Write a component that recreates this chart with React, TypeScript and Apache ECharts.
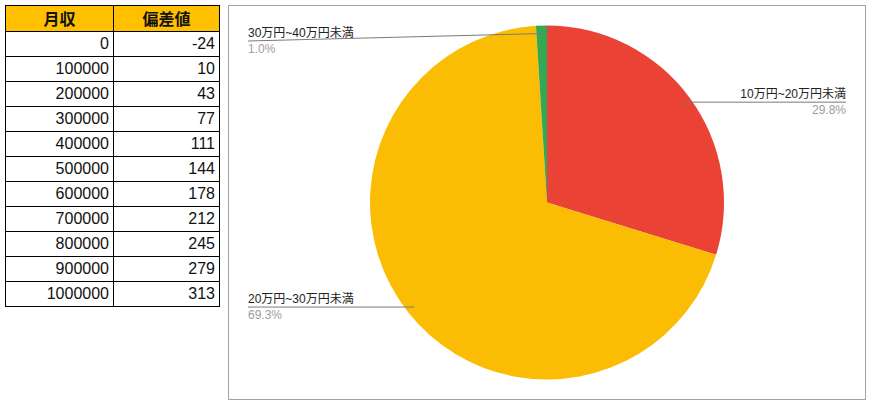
import React, { useRef, useEffect } from "react";
import * as echarts from "echarts";

// 左の表: 月収と偏差値
const incomes = [0, 100000, 200000, 300000, 400000, 500000, 600000, 700000, 800000, 900000, 1000000];
const deviations = [-24, 10, 43, 77, 111, 144, 178, 212, 245, 279, 313];
const tableHeaders = ["月収", "偏差値"];

// 右の円グラフ
const sliceNames = ["10万円~20万円未満", "20万円~30万円未満", "30万円~40万円未満"];
const slicePercents = [29.8, 69.3, 1.0];
const sliceColors = ["#EA4335", "#FBBC04", "#34A853"];

const FONT = "'Liberation Sans', Arial, 'Noto Sans CJK JP', sans-serif";

const cellStyle: React.CSSProperties = {
  border: "1px solid #000",
  padding: "0 4px",
  textAlign: "right",
  fontSize: 16,
  height: 24,
  lineHeight: "24px",
};

const headStyle: React.CSSProperties = {
  border: "1px solid #000",
  background: "#FFC000",
  textAlign: "center",
  fontWeight: 700,
  fontSize: 16,
  height: 25,
  lineHeight: "25px",
  padding: 0,
  fontFamily: "'Noto Sans CJK JP', sans-serif",
};

const App: React.FC = () => {
  const chartRef = useRef<HTMLDivElement>(null);

  useEffect(() => {
    if (!chartRef.current) return;
    const chart = echarts.init(chartRef.current, null, { renderer: "svg" });
    const W = chart.getWidth();
    const H = chart.getHeight();
    const cx = W / 2;
    const cy = H / 2;
    const edge = 19;

    const pieBase = {
      type: "pie",
      center: ["50%", "50%"],
      radius: 177,
      startAngle: 90,
      clockwise: true,
      emphasis: { disabled: true },
    };

    chart.setOption({
      animation: false,
      series: [
        // 扇形
        {
          ...pieBase,
          z: 2,
          data: sliceNames.map((n, i) => ({
            name: n,
            value: slicePercents[i],
            itemStyle: { color: sliceColors[i] },
          })),
          label: { show: false },
          labelLine: { show: false },
        },
        // ラベルと引き出し線 (扇形の上に重ねる)
        {
          ...pieBase,
          z: 3,
          data: sliceNames.map((n, i) => ({
            name: n,
            value: slicePercents[i],
            itemStyle: { color: "rgba(0,0,0,0)" },
          })),
          label: {
            show: true,
            alignTo: "edge",
            edgeDistance: edge,
            formatter: (p: any) => `{name|${p.name}}\n{pct|${Number(p.value).toFixed(1)}%}`,
            rich: {
              name: { fontSize: 12, lineHeight: 16, color: "#222", fontFamily: FONT },
              pct: { fontSize: 12, lineHeight: 16, color: "#9e9e9e", fontFamily: FONT },
            },
          },
          labelLine: {
            show: true,
            length: 8,
            length2: 8,
            lineStyle: { color: "#7a7a7a", width: 1 },
          },
          labelLayout: (p: any) => {
            const pts = p.labelLinePoints;
            if (!pts) return {};
            const p0 = pts[0];
            // 線の起点は扇形の少し内側
            const sx = cx + (p0[0] - cx) * 0.955;
            const sy = cy + (p0[1] - cy) * 0.955;
            const right = p0[0] > cx;
            const lineY = Math.max(sy, 35);
            const ex = right ? W - edge : edge;
            const mx = (sx + ex) / 2;
            const my = (sy + lineY) / 2;
            return {
              x: ex,
              y: lineY,
              align: right ? "right" : "left",
              verticalAlign: "middle",
              labelLinePoints: [
                [sx, sy],
                [mx, my],
                [ex, lineY],
              ],
            };
          },
        },
      ],
    });

    return () => {
      chart.dispose();
    };
  }, []);

  return (
    <div style={{ position: "absolute", left: 0, top: 0, width: 870, height: 405, background: "#fff" }}>
      <table
        style={{
          position: "absolute",
          left: 5,
          top: 5,
          borderCollapse: "collapse",
          fontFamily: FONT,
          color: "#111",
        }}
      >
        <thead>
          <tr>
            <th style={{ ...headStyle, width: 107 }}>{tableHeaders[0]}</th>
            <th style={{ ...headStyle, width: 105 }}>{tableHeaders[1]}</th>
          </tr>
        </thead>
        <tbody>
          {incomes.map((v, i) => (
            <tr key={v}>
              <td style={cellStyle}>{v}</td>
              <td style={cellStyle}>{deviations[i]}</td>
            </tr>
          ))}
        </tbody>
      </table>
      <div
        style={{
          position: "absolute",
          left: 228,
          top: 5,
          width: 636,
          height: 393,
          border: "1px solid #a3a3a3",
        }}
      >
        <div ref={chartRef} style={{ width: 636, height: 393 }} />
      </div>
    </div>
  );
};

export default App;
